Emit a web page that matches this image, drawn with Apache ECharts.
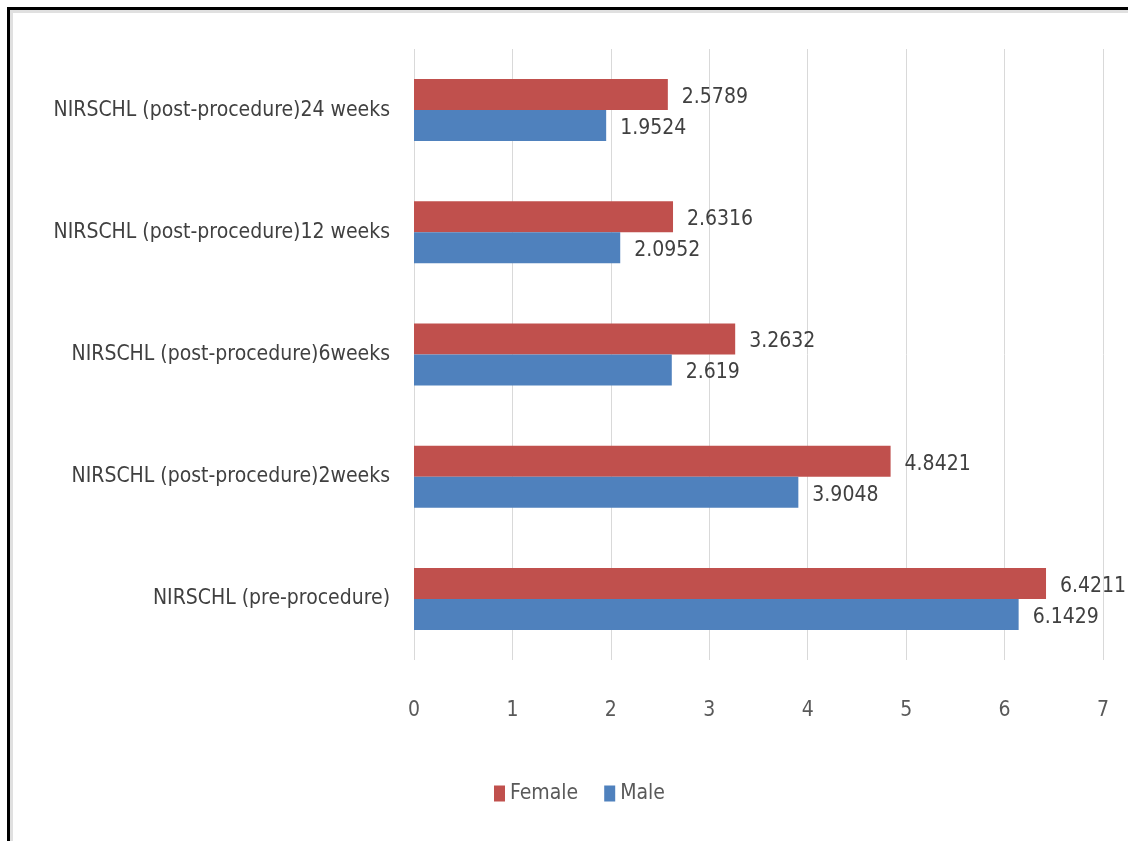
<!DOCTYPE html>
<html>
<head>
<meta charset="utf-8">
<script src="https://cdn.jsdelivr.net/npm/echarts@6/dist/echarts.min.js"></script>
<style>
  html, body { margin: 0; padding: 0; background: #fff; }
  #wrap { position: relative; width: 1128px; height: 841px; overflow: hidden; background: #fff; }
  #frame { position: absolute; left: 7px; top: 7px; width: 1200px; height: 900px; border: 3px solid #000; box-sizing: border-box; }
  #inner { position: absolute; left: 10px; top: 10px; width: 1200px; height: 900px; border: 3px solid #e0e0e0; box-sizing: border-box; }
  #chart { position: absolute; left: 0; top: 0; width: 1128px; height: 841px; }
</style>
</head>
<body>
<div id="wrap">
  <div id="frame"></div>
  <div id="inner"></div>
  <div id="chart"></div>
</div>
<script>
// NIRSCHL score by sex, before and after the procedure
const categories = [
  'NIRSCHL (pre-procedure)',
  'NIRSCHL (post-procedure)2weeks',
  'NIRSCHL (post-procedure)6weeks',
  'NIRSCHL (post-procedure)12 weeks',
  'NIRSCHL (post-procedure)24 weeks'
];
const femaleValues = [6.4211, 4.8421, 3.2632, 2.6316, 2.5789];
const maleValues = [6.1429, 3.9048, 2.619, 2.0952, 1.9524];
const seriesNames = ['Female', 'Male'];

const FONT = '"Liberation Sans Narrow", "DejaVu Sans Condensed", sans-serif';
const chart = echarts.init(document.getElementById('chart'), null, { renderer: 'canvas' });

const labelStyle = {
  show: true,
  position: 'right',
  distance: 14,
  offset: [0, 3],
  color: '#404040',
  fontFamily: FONT,
  fontSize: 21,
  formatter: p => String(p.value)
};

chart.setOption({
  backgroundColor: 'transparent',
  animation: false,
  grid: { left: 414, right: 25, top: 49, bottom: 181, containLabel: false },
  legend: {
    data: seriesNames,
    bottom: 32,
    left: 489,
    itemWidth: 11,
    itemHeight: 16,
    itemGap: 26,
    icon: 'rect',
    textStyle: { color: '#595959', fontFamily: FONT, fontSize: 21 }
  },
  xAxis: {
    type: 'value',
    min: 0,
    max: 7,
    interval: 1,
    axisLine: { show: false },
    axisTick: { show: false },
    axisLabel: { color: '#595959', fontFamily: FONT, fontSize: 21, margin: 40 },
    splitLine: { show: true, lineStyle: { color: '#d9d9d9', width: 1 } }
  },
  yAxis: {
    type: 'category',
    data: categories,
    axisLine: { show: false },
    axisTick: { show: false },
    axisLabel: { color: '#404040', fontFamily: FONT, fontSize: 21, margin: 24, padding: [4, 0, 0, 0] }
  },
  series: [
    {
      name: 'Female',
      type: 'bar',
      data: femaleValues,
      barWidth: 31,
      barGap: '0%',
      barCategoryGap: '49%',
      itemStyle: { color: '#c0504d' },
      label: labelStyle
    },
    {
      name: 'Male',
      type: 'bar',
      data: maleValues,
      barWidth: 31,
      barGap: '0%',
      barCategoryGap: '49%',
      itemStyle: { color: '#4f81bd' },
      label: labelStyle
    }
  ]
});
</script>
</body>
</html>
